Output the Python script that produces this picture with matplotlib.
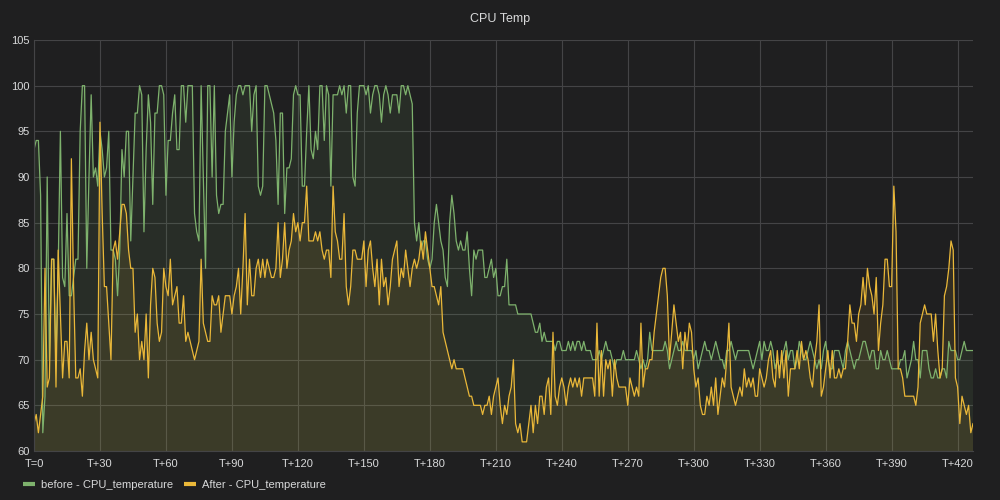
import numpy as np
import matplotlib
matplotlib.use("Agg")
import matplotlib.pyplot as plt
from matplotlib.lines import Line2D

# temperatures, one sample per time step (T=0 .. T+427)
before = [
    93, 94, 94, 88, 62, 66, 90, 70, 81, 81,
    70, 80, 95, 79, 78, 86, 77, 77, 79, 81,
    81, 95, 100, 100, 80, 90, 99, 90, 91, 89,
    95, 93, 90, 91, 95, 82, 82, 81, 77, 82,
    93, 90, 95, 95, 83, 90, 97, 97, 100, 99,
    84, 93, 99, 96, 87, 97, 97, 100, 100, 99,
    88, 94, 94, 97, 99, 93, 93, 100, 100, 96,
    100, 100, 100, 86, 84, 83, 100, 90, 80, 100,
    100, 90, 100, 88, 86, 87, 87, 95, 97, 99,
    90, 96, 99, 100, 100, 99, 100, 100, 100, 95,
    99, 100, 89, 88, 89, 100, 100, 99, 98, 97,
    94, 87, 97, 97, 86, 91, 91, 92, 99, 100,
    99, 99, 89, 89, 95, 100, 93, 92, 95, 93,
    100, 100, 94, 100, 99, 89, 99, 99, 99, 100,
    99, 100, 97, 100, 100, 90, 89, 97, 100, 100,
    100, 99, 100, 97, 99, 100, 100, 99, 96, 99,
    100, 99, 97, 99, 99, 99, 97, 100, 100, 99,
    100, 99, 98, 85, 83, 85, 82, 83, 83, 81,
    80, 81, 85, 87, 85, 83, 82, 79, 78, 85,
    88, 86, 83, 82, 83, 82, 82, 84, 80, 77,
    82, 81, 82, 82, 82, 79, 79, 80, 81, 79,
    80, 77, 77, 78, 78, 81, 76, 76, 76, 76,
    75, 75, 75, 75, 75, 75, 75, 74, 73, 73,
    74, 72, 73, 72, 72, 72, 72, 71, 72, 72,
    71, 71, 71, 72, 71, 72, 71, 72, 72, 71,
    72, 71, 71, 71, 70, 70, 70, 71, 70, 71,
    72, 71, 71, 70, 69, 70, 70, 70, 71, 70,
    70, 70, 70, 70, 71, 70, 69, 70, 69, 70,
    73, 71, 71, 71, 71, 71, 71, 72, 71, 69,
    70, 71, 72, 71, 71, 72, 71, 71, 71, 71,
    70, 71, 69, 70, 71, 72, 71, 71, 70, 71,
    72, 71, 70, 70, 69, 71, 71, 72, 71, 70,
    71, 71, 71, 71, 71, 71, 70, 69, 70, 71,
    72, 70, 72, 71, 71, 72, 71, 69, 70, 69,
    70, 71, 72, 70, 71, 71, 69, 70, 72, 71,
    70, 70, 71, 72, 71, 70, 69, 70, 69, 71,
    72, 70, 69, 69, 71, 71, 71, 70, 69, 71,
    72, 71, 70, 69, 70, 70, 71, 72, 72, 71,
    70, 71, 71, 69, 69, 71, 70, 70, 71, 70,
    69, 69, 69, 69, 70, 70, 71, 68, 69, 70,
    72, 70, 70, 68, 71, 71, 71, 69, 68, 68,
    69, 68, 68, 69, 69, 68, 72, 71, 71, 71,
    70, 70, 71, 72, 71, 71, 71, 71,
]

after = [
    63, 64, 62, 64, 66, 80, 67, 68, 81, 81,
    67, 82, 75, 68, 72, 72, 68, 92, 78, 68,
    68, 69, 66, 71, 74, 70, 73, 70, 69, 68,
    96, 86, 78, 78, 74, 70, 82, 83, 81, 84,
    87, 87, 86, 82, 80, 80, 73, 75, 70, 72,
    70, 75, 68, 76, 80, 79, 74, 72, 73, 80,
    78, 77, 81, 76, 77, 78, 74, 74, 77, 72,
    73, 72, 71, 70, 71, 72, 81, 74, 73, 72,
    72, 77, 76, 76, 77, 73, 75, 77, 77, 77,
    75, 77, 78, 80, 75, 80, 86, 76, 81, 77,
    77, 80, 81, 79, 81, 79, 81, 80, 79, 79,
    80, 85, 79, 81, 85, 80, 82, 83, 86, 84,
    85, 83, 85, 85, 89, 83, 83, 83, 84, 83,
    84, 82, 81, 82, 82, 79, 89, 84, 83, 81,
    81, 86, 78, 76, 78, 82, 82, 81, 81, 81,
    83, 78, 82, 83, 80, 78, 81, 76, 81, 78,
    79, 76, 78, 81, 82, 83, 78, 80, 79, 82,
    80, 78, 80, 81, 80, 81, 83, 81, 84, 82,
    80, 78, 78, 77, 76, 78, 73, 72, 71, 70,
    69, 70, 69, 69, 69, 69, 68, 67, 66, 66,
    65, 65, 65, 65, 64, 65, 65, 66, 64, 66,
    67, 68, 65, 63, 65, 64, 66, 67, 70, 63,
    62, 63, 61, 61, 61, 63, 65, 62, 65, 63,
    66, 66, 64, 67, 68, 64, 73, 66, 65, 67,
    68, 67, 65, 67, 68, 67, 68, 67, 68, 66,
    68, 68, 68, 68, 68, 66, 74, 66, 71, 66,
    70, 69, 70, 66, 70, 68, 67, 67, 67, 67,
    65, 68, 67, 66, 67, 66, 74, 67, 69, 69,
    70, 70, 73, 75, 77, 79, 80, 80, 77, 70,
    73, 76, 74, 72, 73, 69, 73, 71, 74, 73,
    69, 67, 68, 65, 64, 64, 66, 65, 67, 65,
    68, 64, 66, 68, 67, 70, 74, 67, 66, 65,
    66, 67, 66, 69, 67, 68, 67, 68, 66, 66,
    69, 68, 67, 68, 70, 71, 68, 67, 71, 68,
    71, 68, 71, 66, 69, 69, 69, 71, 69, 72,
    70, 71, 70, 68, 67, 70, 72, 76, 66, 67,
    69, 71, 68, 71, 68, 68, 69, 68, 69, 69,
    72, 76, 74, 74, 72, 75, 76, 79, 76, 80,
    78, 77, 75, 79, 71, 74, 76, 81, 81, 78,
    78, 89, 84, 69, 69, 68, 66, 66, 66, 66,
    66, 65, 67, 74, 75, 76, 75, 75, 75, 72,
    75, 71, 68, 69, 77, 78, 80, 83, 82, 68,
    67, 63, 66, 65, 64, 65, 62, 63,
]

names = ["before - CPU_temperature", "After - CPU_temperature"]
x_ticks = list(range(0, 421, 30))
x_labels = ["T=0"] + ["T+%d" % v for v in x_ticks[1:]]
y_ticks = list(range(60, 106, 5))

bg = "#1f1f20"
txt = "#d8d9da"
grid = "#444446"
green = "#7eb26d"
yellow = "#eab839"

plt.rcParams["font.family"] = ["Liberation Sans", "DejaVu Sans"]

fig = plt.figure(figsize=(10, 5), dpi=100, facecolor=bg)
ax = fig.add_axes([0.034, 0.098, 0.939, 0.822], facecolor=bg)

t = np.arange(len(before))
ax.fill_between(t, 0, before, color=green, alpha=0.1, lw=0)
ax.plot(t, before, color=green, lw=0.9)
t2 = np.arange(len(after))
ax.fill_between(t2, 0, after, color=yellow, alpha=0.1, lw=0)
ax.plot(t2, after, color=yellow, lw=0.9)

ax.set_xlim(0, len(before) - 1)
ax.set_ylim(60, 105)
ax.set_xticks(x_ticks)
ax.set_xticklabels(x_labels)
ax.set_yticks(y_ticks)
ax.grid(True, color=grid, lw=0.8)
ax.set_axisbelow(True)
ax.tick_params(length=0, colors=txt, labelsize=8)
ax.tick_params(axis="x", pad=6)
ax.tick_params(axis="y", pad=3)
for s in ["top", "right"]:
    ax.spines[s].set_visible(False)
for s in ["left", "bottom"]:
    ax.spines[s].set_color(grid)
    ax.spines[s].set_linewidth(0.8)

fig.text(0.5, 0.962, "CPU Temp", ha="center", va="center", color=txt, fontsize=9)

handles = [Line2D([], [], color=green, lw=3, solid_capstyle="butt"),
           Line2D([], [], color=yellow, lw=3, solid_capstyle="butt")]
fig.legend(handles, names, loc="lower left", bbox_to_anchor=(0.013, 0.0),
           ncol=2, frameon=False, fontsize=8, labelcolor=txt,
           handlelength=1.1, handletextpad=0.5, columnspacing=1.0)

fig.savefig("out.png", dpi=100, facecolor=bg)
